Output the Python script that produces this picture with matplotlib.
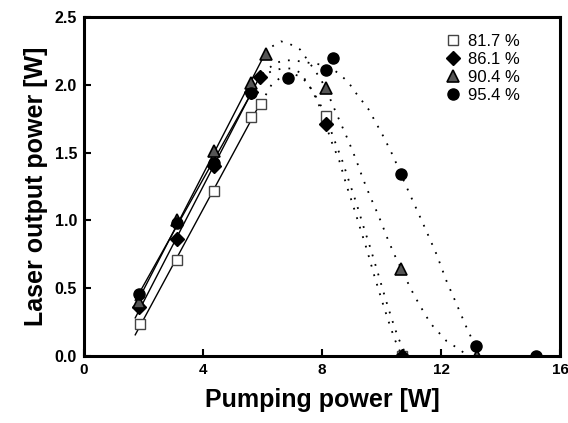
import numpy as np
import matplotlib
matplotlib.use("Agg")
import matplotlib.pyplot as plt

plt.rcParams['font.family'] = ['Liberation Sans', 'DejaVu Sans']

labels = ["81.7 %", "86.1 %", "90.4 %", "95.4 %"]

# measured points
sq_x = [1.88, 3.11, 4.37, 5.60, 5.94, 8.12, 10.70]
sq_y = [0.235, 0.71, 1.215, 1.76, 1.86, 1.77, 0.0]
di_x = [1.86, 3.14, 4.37, 5.60, 5.92, 8.12, 10.70]
di_y = [0.36, 0.86, 1.40, 1.95, 2.06, 1.71, 0.0]
tr_x = [1.86, 3.11, 4.37, 5.60, 6.10, 8.12, 10.65, 13.20]
tr_y = [0.40, 1.00, 1.51, 2.01, 2.23, 1.975, 0.64, 0.0]
ci_x = [1.86, 3.11, 4.37, 5.60, 6.87, 8.12, 8.38, 10.65, 13.17, 15.20]
ci_y = [0.46, 0.98, 1.42, 1.94, 2.05, 2.11, 2.195, 1.34, 0.075, 0.0]

# number of rising points used for the linear fits
n_rise = [5, 5, 5, 4]

# dotted guide curves
sqc_x = [5.94, 6.30, 6.70, 7.00, 7.30, 7.55, 7.80, 8.00, 8.12, 8.40, 8.68, 8.92, 9.15, 9.40, 9.62, 9.88, 10.15, 10.35, 10.55, 10.80]
sqc_y = [1.86, 2.00, 2.07, 2.08, 2.06, 2.00, 1.91, 1.83, 1.77, 1.60, 1.44, 1.28, 1.13, 0.95, 0.80, 0.61, 0.41, 0.27, 0.14, 0.02]
dic_x = [5.92, 6.31, 6.65, 6.98, 7.26, 7.49, 7.71, 7.88, 8.12, 8.32, 8.58, 8.82, 9.03, 9.30, 9.50, 9.76, 10.04, 10.23, 10.45, 10.65]
dic_y = [2.06, 2.10, 2.12, 2.12, 2.09, 2.02, 1.94, 1.86, 1.71, 1.58, 1.44, 1.26, 1.12, 0.93, 0.79, 0.59, 0.39, 0.26, 0.12, 0.02]
trc_x = [6.10, 6.30, 6.62, 6.92, 7.26, 7.52, 7.71, 7.93, 8.12, 8.36, 8.62, 8.88, 9.14, 9.37, 9.61, 9.87, 10.00, 10.23, 10.51, 10.68, 10.96, 11.27, 11.65, 12.19, 12.52, 12.80]
trc_y = [2.23, 2.28, 2.32, 2.30, 2.26, 2.18, 2.12, 2.05, 1.975, 1.85, 1.72, 1.59, 1.45, 1.31, 1.18, 1.05, 0.98, 0.85, 0.71, 0.64, 0.505, 0.38, 0.24, 0.11, 0.064, 0.02]
cic_x = [6.00, 6.42, 6.76, 6.98, 7.37, 7.60, 7.93, 8.25, 8.55, 8.88, 9.10, 9.56, 10.06, 10.40, 10.65, 11.46, 11.85, 12.19, 12.47, 12.86, 13.20]
cic_y = [2.08, 2.16, 2.18, 2.18, 2.17, 2.16, 2.15, 2.13, 2.085, 2.02, 1.95, 1.82, 1.62, 1.47, 1.34, 0.945, 0.75, 0.55, 0.41, 0.21, 0.05]

xticks = [0, 4, 8, 12, 16]
yticks = [0.0, 0.5, 1.0, 1.5, 2.0, 2.5]

fig = plt.figure(figsize=(5.68, 4.23), dpi=100)
ax = fig.add_axes([0.148, 0.158, 0.838, 0.802])

styles = [
    dict(marker='s', mfc='white', mec='#444444', ms=7, mew=1.0),
    dict(marker='D', mfc='black', mec='black', ms=7),
    dict(marker='^', mfc='#555555', mec='black', ms=9, mew=1.2),
    dict(marker='o', mfc='black', mec='black', ms=8),
]
data = [(sq_x, sq_y), (di_x, di_y), (tr_x, tr_y), (ci_x, ci_y)]
curves = [(sqc_x, sqc_y), (dic_x, dic_y), (trc_x, trc_y), (cic_x, cic_y)]

for (x, y), (cx, cy), st, lab, n in zip(data, curves, styles, labels, n_rise):
    xs = np.array(x[:n]); ys = np.array(y[:n])
    k, b = np.polyfit(xs, ys, 1)
    xl = np.array([1.72, xs[-1]])
    ax.plot(xl, k * xl + b, color='black', lw=1.0, zorder=2)
    ax.plot(cx, cy, color='black', lw=1.3, linestyle=(0, (1.0, 4.5)), zorder=2)
    ax.plot(x, y, linestyle='none', label=lab, zorder=3, clip_on=True, **st)

ax.set_xlim(0, 16)
ax.set_ylim(0, 2.5)
ax.set_xticks(xticks)
ax.set_yticks(yticks)
ax.set_xticklabels([str(t) for t in xticks], fontweight='bold', fontsize=11)
ax.set_yticklabels([f"{t:.1f}" for t in yticks], fontweight='bold', fontsize=11.5)
ax.tick_params(direction='in', length=5, width=1.5, top=False, right=False, pad=5)
for s in ax.spines.values():
    s.set_linewidth(2.2)
    s.set_zorder(4)

ax.set_xlabel("Pumping power [W]", fontsize=18, fontweight='bold', labelpad=8)
ax.set_ylabel("Laser output power [W]", fontsize=18, fontweight='bold', labelpad=5)

leg = ax.legend(loc='upper right', bbox_to_anchor=(0.93, 0.97), frameon=False,
                fontsize=12, handletextpad=0.4, labelspacing=0.18,
                borderaxespad=0.0, handlelength=1.0)

fig.savefig("out.png", dpi=100)
